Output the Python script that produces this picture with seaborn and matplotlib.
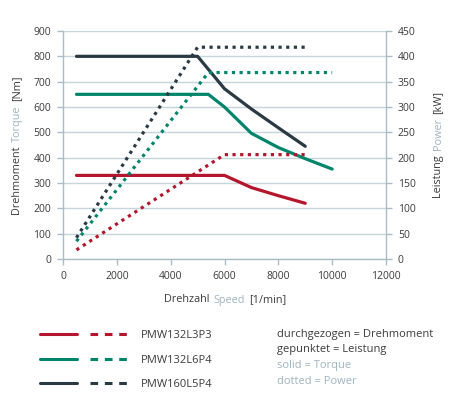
import matplotlib
matplotlib.use("Agg")
import matplotlib.pyplot as plt
from matplotlib.lines import Line2D
from matplotlib.legend_handler import HandlerTuple
import seaborn as sns

# Data
motors = ["PMW132L3P3", "PMW132L6P4", "PMW160L5P4"]
colors = ["#b3162d", "#00856a", "#2a3a44"]

# Torque curves (solid), Nm on the left axis
torque_speed = [
    [500, 6000, 7000, 8000, 9000],
    [500, 5400, 6000, 7000, 8000, 9000, 10000],
    [500, 5000, 6000, 7000, 8000, 9000],
]
torque_nm = [
    [330, 330, 282, 250, 220],
    [650, 650, 600, 496, 440, 396, 355],
    [800, 800, 672, 592, 518, 445],
]

# Power curves (dotted), kW on the right axis
power_speed = [
    [500, 6000, 9000],
    [500, 5400, 10000],
    [500, 5000, 9000],
]
power_kw = [
    [18, 206, 206],
    [35, 368, 368],
    [42, 418, 418],
]

x_ticks = [0, 2000, 4000, 6000, 8000, 10000, 12000]
torque_ticks = list(range(0, 901, 100))
power_ticks = list(range(0, 451, 50))

DARK = "#3c3c3c"
LIGHT = "#9fb4c1"
AXIS = "#aabdc7"
GRID = "#c6d4db"
W, H = 450, 396

sns.set_theme(style="white")
plt.rcParams["font.family"] = ["Open Sans", "DejaVu Sans"]


def fx(px):
    return px / W


def fy(py):
    return 1 - py / H


def colored_text(fig, x, y, parts, rotation=0, size=8, gap=4):
    """Draw text pieces with different colors next to each other, centred at (x, y) in pixels."""
    renderer = fig.canvas.get_renderer()
    texts = []
    offset = 0
    for s, c in parts:
        if rotation == 0:
            t = fig.text(fx(x + offset), fy(y), s, color=c, fontsize=size,
                         ha="left", va="center")
        else:
            t = fig.text(fx(x), fy(y - offset), s, color=c, fontsize=size,
                         ha="left", va="center", rotation=90,
                         rotation_mode="anchor")
        bb = t.get_window_extent(renderer)
        offset += (bb.width if rotation == 0 else bb.height) + gap
        texts.append(t)
    total = offset - gap
    for t in texts:
        px, py = t.get_position()
        if rotation == 0:
            t.set_x(px - total / 2 / W)
        else:
            t.set_y(py - total / 2 / H)


fig = plt.figure(figsize=(W / 100, H / 100), dpi=100)
ax = fig.add_axes([fx(63), fy(259), (386 - 63) / W, (259 - 31) / H])
ax2 = ax.twinx()

for i in range(len(motors)):
    sns.lineplot(x=torque_speed[i], y=torque_nm[i], ax=ax, color=colors[i],
                 linewidth=2.3, estimator=None, sort=False)
    sns.lineplot(x=power_speed[i], y=power_kw[i], ax=ax2, color=colors[i],
                 linewidth=2.3, linestyle=(0, (1, 1.4)), estimator=None, sort=False)

ax.set_xlim(0, 12000)
ax.set_ylim(0, 900)
ax2.set_ylim(0, 450)
ax.set_xticks(x_ticks)
ax.set_yticks(torque_ticks)
ax2.set_yticks(power_ticks)
ax.set_xticklabels([str(v) for v in x_ticks])
ax.set_xlabel("")
ax.set_ylabel("")
ax2.set_ylabel("")

ax.grid(axis="y", color=GRID, linewidth=1)
ax.set_axisbelow(True)
ax2.grid(False)

for a in (ax, ax2):
    a.spines["top"].set_visible(False)
    for side in ("left", "right", "bottom"):
        a.spines[side].set_color(AXIS)
        a.spines[side].set_linewidth(1)
    a.tick_params(colors=AXIS, labelcolor=DARK, labelsize=7.5, length=4.5,
                  width=1, pad=4)
ax.spines["right"].set_visible(False)
ax2.spines["left"].set_visible(False)
ax2.spines["bottom"].set_visible(False)
ax.tick_params(axis="y", left=True, right=False)
ax.tick_params(axis="x", bottom=True)
ax2.tick_params(axis="y", right=True, left=False)

# Axis titles: German in dark, English in light blue-grey
colored_text(fig, 225, 300, [("Drehzahl", DARK), ("Speed", LIGHT), ("[1/min]", DARK)], size=7.8)
colored_text(fig, 17, 145, [("Drehmoment", DARK), ("Torque", LIGHT), ("[Nm]", DARK)],
             rotation=90, size=7.8)
colored_text(fig, 438, 144, [("Leistung", DARK), ("Power", LIGHT), ("[kW]", DARK)],
             rotation=90, size=7.8)

# Legend: solid + dashed sample per motor
handles = []
for c in colors:
    solid = Line2D([], [], color=c, linewidth=2.2)
    dashed = Line2D([], [], color=c, linewidth=2.2, linestyle=(0, (2.5, 2.2)))
    handles.append((solid, dashed))
fig.legend(handles, motors, handler_map={tuple: HandlerTuple(ndivide=None, pad=1.2)},
           loc="upper left", bbox_to_anchor=(fx(40), fy(330)), frameon=False,
           fontsize=8, handlelength=7.8, handletextpad=1.25, labelspacing=1.22,
           borderpad=0, borderaxespad=0, labelcolor=DARK)

notes = [("durchgezogen = Drehmoment", DARK), ("gepunktet = Leistung", DARK),
         ("solid = Torque", LIGHT), ("dotted = Power", LIGHT)]
for k, (s, c) in enumerate(notes):
    fig.text(fx(277), fy(334 + k * 15.7), s, color=c, fontsize=8, ha="left", va="center")

plt.savefig("out.png", dpi=100)
plt.close()
